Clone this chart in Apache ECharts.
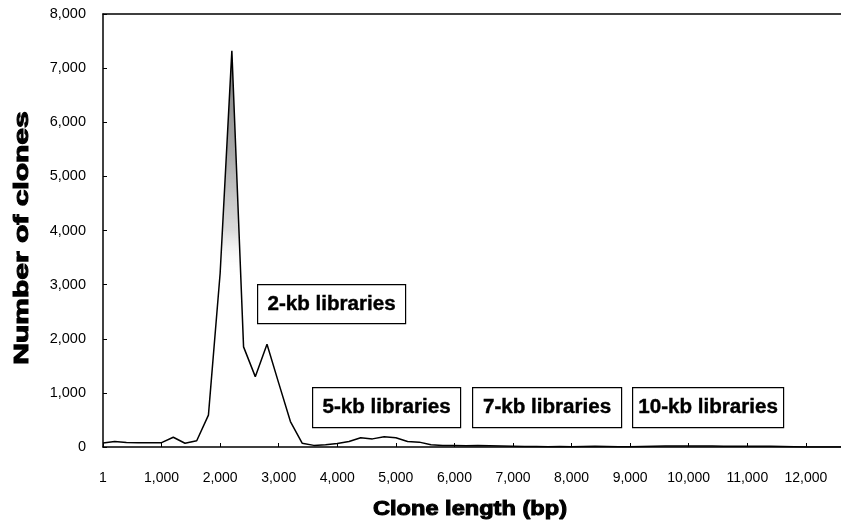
<!DOCTYPE html>
<html>
<head>
<meta charset="utf-8">
<script src="https://cdn.jsdelivr.net/npm/echarts@6/dist/echarts.min.js"></script>
<style>html,body{margin:0;padding:0;background:#fff}#c{width:841px;height:528px}</style>
</head>
<body>
<div id="c"></div>
<script>
// Clone length bins (bp), step 200; first bin labelled "1"
var binLengths = [];
for (var i = 0; i <= 63; i++) binLengths.push(i * 200);
var clones = [75,100,85,80,80,80,180,70,115,590,3210,7320,1850,1300,1900,1180,470,70,30,40,
  65,100,170,150,190,170,100,90,40,30,30,25,30,25,20,15,10,10,5,10,
  5,10,15,10,5,5,10,15,20,20,20,20,20,15,15,15,15,15,10,5,
  0,0,0,0];
var yTicks = [0,1000,2000,3000,4000,5000,6000,7000,8000];
var libraryLabels = ['2-kb libraries','5-kb libraries','7-kb libraries','10-kb libraries'];

function fmt(v){ return Number(v).toLocaleString('en-US'); }
var categories = binLengths.map(function(v){ return v === 0 ? '1' : fmt(v); });

var chart = echarts.init(document.getElementById('c'));
var FONT = '"Liberation Sans", Arial, sans-serif';

var boxes = [
  {x:257,y:284,w:148,h:39},
  {x:312,y:387,w:148,h:40},
  {x:472,y:387,w:149,h:40},
  {x:632,y:387,w:151,h:40}
];
var graphics = boxes.map(function(b, i){
  return {
    type:'group', left:b.x, top:b.y, z:100,
    children:[
      {type:'rect', shape:{x:0,y:0,width:b.w,height:b.h}, style:{fill:'#fff', stroke:'#000', lineWidth:1.2}},
      {type:'text', x:b.w/2, y:b.h/2, scaleX:1.03,
       style:{text:libraryLabels[i], font:'bold 20px '+FONT, fill:'#000', stroke:'#000', lineWidth:0.4, textAlign:'center', textVerticalAlign:'middle'}}
    ]
  };
});
graphics.push({
  type:'text', x:22, y:238, rotation:Math.PI/2, scaleX:1.5,
  style:{text:'Number of clones', font:'bold 20px '+FONT, fill:'#000', stroke:'#000', lineWidth:1, textAlign:'center', textVerticalAlign:'middle'}
});
graphics.push({
  type:'text', x:470, y:509, scaleX:1.18,
  style:{text:'Clone length (bp)', font:'bold 20px '+FONT, fill:'#000', stroke:'#000', lineWidth:1, textAlign:'center', textVerticalAlign:'middle'}
});

chart.setOption({
  animation:false,
  grid:{left:103, right:0, top:14, bottom:81},
  xAxis:[{
    type:'category', data:categories, boundaryGap:false,
    axisLine:{lineStyle:{color:'#000', width:1.5}},
    axisTick:{inside:true, length:4, interval:4, lineStyle:{color:'#000'}},
    axisLabel:{interval:4, margin:24, color:'#000', fontSize:14, fontFamily:FONT},
    splitLine:{show:false}
  },{
    type:'category', data:categories, boundaryGap:false, position:'top',
    axisLine:{show:true, lineStyle:{color:'#000', width:1.5}},
    axisTick:{show:false}, axisLabel:{show:false}
  }],
  yAxis:{
    type:'value', min:yTicks[0], max:yTicks[yTicks.length-1], interval:1000,
    axisLine:{show:true, lineStyle:{color:'#000', width:1.5}},
    axisTick:{show:true, inside:true, length:4, lineStyle:{color:'#000'}},
    axisLabel:{margin:17, color:'#000', fontSize:14.5, fontFamily:FONT, formatter:function(v){return fmt(v);}},
    splitLine:{show:false}
  },
  series:[{
    type:'line', data:clones, showSymbol:false, symbol:'none',
    lineStyle:{color:'#000', width:1.5},
    areaStyle:{
      color:new echarts.graphic.LinearGradient(0,51,0,275,[
        {offset:0,color:'rgba(70,70,70,1)'},
        {offset:0.45,color:'rgba(130,130,130,1)'},
        {offset:0.8,color:'rgba(200,200,200,0.9)'},
        {offset:1,color:'rgba(255,255,255,0)'}
      ], true),
      origin:'start'
    }
  }],
  graphic:graphics
});
</script>
</body>
</html>
